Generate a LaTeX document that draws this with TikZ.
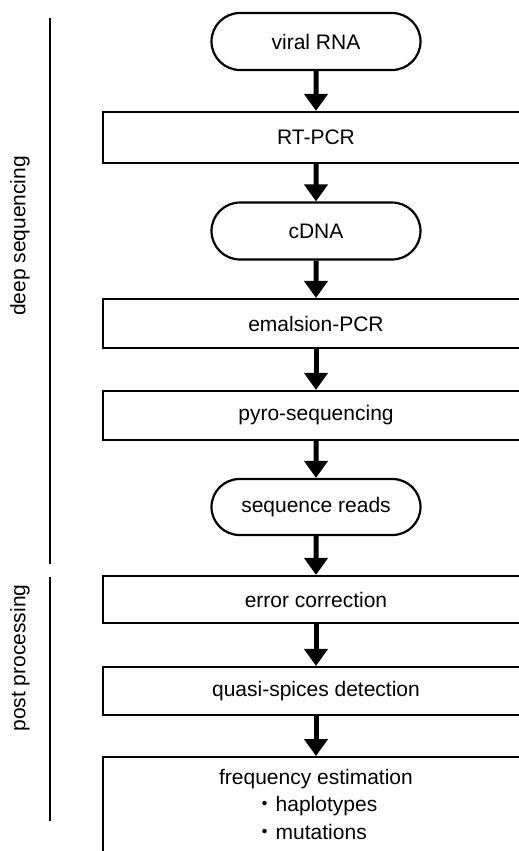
\documentclass[tikz,border=0pt]{standalone}
\usepackage{fontspec}
\setmainfont{Liberation Sans}
\newfontfamily\cjk{Noto Sans CJK JP}
\usepackage{tikz}
\usetikzlibrary{arrows.meta,positioning,shapes.misc}
\tikzset{
  term/.style={rounded rectangle,draw,line width=2.2pt,minimum width=209pt,minimum height=57pt,inner sep=0pt},
  proc/.style={rectangle,draw,line width=2.2pt,minimum width=426pt,inner sep=0pt,align=center},
  flow/.style={line width=5pt,-{Triangle[length=17pt,width=23pt]}},
  phase/.style={line width=2.6pt},
}

\begin{document}
\begin{tikzpicture}[x=1pt,y=-1pt,font=\fontsize{21}{27.5}\selectfont]
  \clip (0,0) rectangle (519,851);
  % phases
  \draw[phase] (50,18) -- (50,564);
  \draw[phase] (50,577) -- (50,821);
  \node[rotate=90] (deep) at (20,236) {deep sequencing};
  \node[rotate=90] (post) at (20,658) {post processing};
  % steps
  \node[term] (rna) at (316,41.5) {viral RNA};
  \node[proc,minimum height=51pt] (rtpcr) at (316,137.5) {RT-PCR};
  \node[term] (cdna) at (316,231) {cDNA};
  \node[proc,minimum height=49pt] (epcr) at (316,323.5) {emalsion-PCR};
  \node[proc,minimum height=49pt] (pyro) at (316,415.5) {pyro-sequencing};
  \node[term,minimum height=56pt] (reads) at (316,507) {sequence reads};
  \node[proc,minimum height=47pt] (errc) at (316,599.5) {error correction};
  \node[proc,minimum height=48pt] (quasi) at (316,691) {quasi-spices detection};
  \node[proc,minimum height=102pt,anchor=north] (freq) at (316,756)
    {frequency estimation\\
     \begin{tabular}[t]{@{}l@{}}{\cjk ・}haplotypes\\{\cjk ・}mutations\end{tabular}};
  \draw[flow] (rna) -- (rtpcr);
  \draw[flow] (rtpcr) -- (cdna);
  \draw[flow] (cdna) -- (epcr);
  \draw[flow] (epcr) -- (pyro);
  \draw[flow] (pyro) -- (reads);
  \draw[flow] (reads) -- (errc);
  \draw[flow] (errc) -- (quasi);
  \draw[flow] (quasi) -- (freq);
\end{tikzpicture}
\end{document}
